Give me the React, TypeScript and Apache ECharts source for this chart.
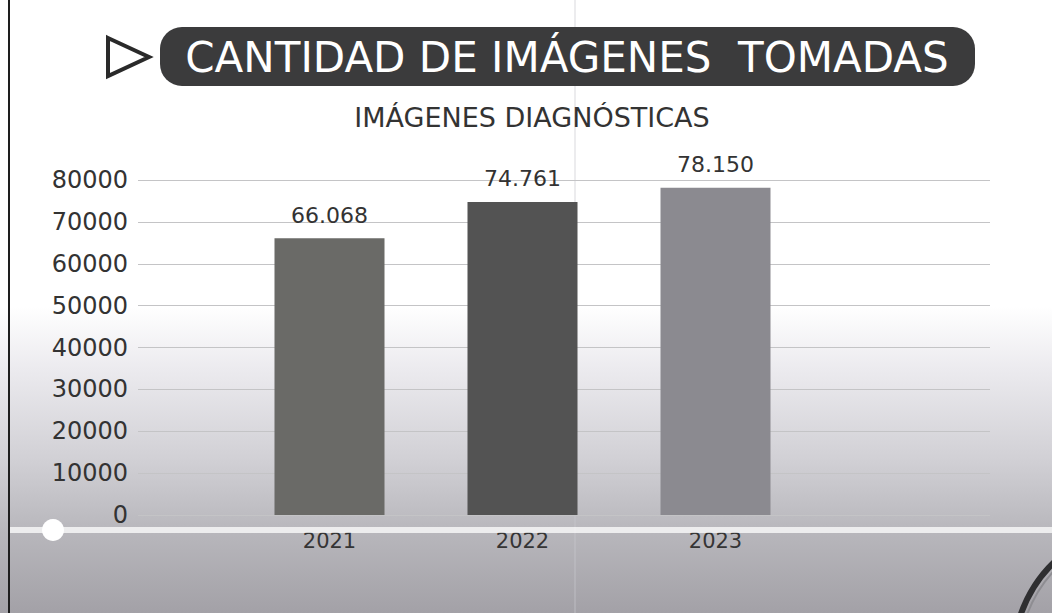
import React, { useEffect, useRef } from "react";
import * as echarts from "echarts";

const years = ["2021", "2022", "2023"];
const imagenes = [66068, 74761, 78150];
const barColors = ["#6a6a67", "#535353", "#8b8a90"];
const yTicks = [0, 10000, 20000, 30000, 40000, 50000, 60000, 70000, 80000];

const titleText = "CANTIDAD DE IMÁGENES  TOMADAS";
const subtitleText = "IMÁGENES DIAGNÓSTICAS";

const fmt = (v: number) => String(v).replace(/\B(?=(\d{3})+(?!\d))/g, ".");

export default function App() {
  const ref = useRef<HTMLDivElement>(null);
  useEffect(() => {
    if (!ref.current) return;
    const chart = echarts.init(ref.current, null, { renderer: "svg" });
    const yMax = yTicks[yTicks.length - 1];
    const option: any = {
      animation: false,
      backgroundColor: new echarts.graphic.LinearGradient(0, 0, 0, 1, [
        { offset: 0, color: "#ffffff" },
        { offset: 0.5, color: "#ffffff" },
        { offset: 0.6, color: "#ecebef" },
        { offset: 0.75, color: "#d1d0d5" },
        { offset: 0.86, color: "#b9b8bd" },
        { offset: 1, color: "#a3a1a7" },
      ]),
      textStyle: { fontFamily: "DejaVu Sans" },
      grid: [
        { left: 138, right: 62, top: 180, bottom: 98 },
        { left: 233, right: 240, top: 180, bottom: 98 },
      ],
      xAxis: [
        {
          type: "category",
          gridIndex: 0,
          data: years,
          show: false,
        },
        {
          type: "category",
          gridIndex: 1,
          data: years,
          axisLine: { show: false },
          axisTick: { show: false },
          axisLabel: { color: "#353535", fontSize: 21, margin: 15, fontFamily: "DejaVu Sans" },
        },
      ],
      yAxis: [
        {
          type: "value",
          gridIndex: 0,
          min: 0,
          max: yMax,
          interval: 10000,
          axisLine: { show: false },
          axisTick: { show: false },
          axisLabel: {
            color: "#333333",
            fontSize: 24,
            margin: 10,
            fontFamily: "DejaVu Sans",
            formatter: (v: number) => String(v),
          },
          splitLine: { lineStyle: { color: "#c4c4c6", width: 1.2 } },
        },
        {
          type: "value",
          gridIndex: 1,
          min: 0,
          max: yMax,
          interval: 10000,
          show: false,
          splitLine: { show: false },
        },
      ],
      series: [
        {
          type: "bar",
          xAxisIndex: 1,
          yAxisIndex: 1,
          barWidth: "57%",
          data: imagenes.map((v, i) => ({ value: v, itemStyle: { color: barColors[i] } })),
          label: {
            show: true,
            position: "top",
            distance: 12,
            color: "#333333",
            fontSize: 22,
            fontFamily: "DejaVu Sans",
            formatter: (p: any) => fmt(p.value),
          },
        },
      ],
      graphic: [
        { type: "line", z: -1, shape: { x1: 9, y1: 0, x2: 9, y2: 613 }, style: { stroke: "#1e1e1e", lineWidth: 2 } },
        { type: "line", z: -1, shape: { x1: 575, y1: 0, x2: 575, y2: 613 }, style: { stroke: "rgba(200,200,205,0.35)", lineWidth: 2 } },
        { type: "line", z: 10, shape: { x1: 10, y1: 530, x2: 1052, y2: 530 }, style: { stroke: "rgba(255,255,255,0.75)", lineWidth: 6 } },
        { type: "circle", z: 11, shape: { cx: 53, cy: 530, r: 11 }, style: { fill: "#ffffff" } },
        {
          type: "arc",
          z: 10,
          shape: { cx: 1150, cy: 660, r: 137, startAngle: 3.4, endAngle: 4.05, clockwise: true },
          style: { stroke: "#2f2f31", lineWidth: 6, fill: null },
        },
        {
          type: "arc",
          z: 11,
          shape: { cx: 1150, cy: 660, r: 131, startAngle: 3.4, endAngle: 4.05, clockwise: true },
          style: { stroke: "#8e8d92", lineWidth: 2, fill: null },
        },
        { type: "rect", z: 10, shape: { x: 160, y: 27, width: 815, height: 59, r: 22 }, style: { fill: "#3b3b3c" } },
        {
          type: "text",
          z: 11,
          x: 567,
          y: 57,
          style: {
            text: titleText,
            fill: "#ffffff",
            fontSize: 42,
            fontFamily: "DejaVu Sans",
            align: "center",
            verticalAlign: "middle",
          },
        },
        {
          type: "polygon",
          z: 11,
          shape: { points: [[108, 38], [149, 57], [108, 76]] },
          style: { fill: "none", stroke: "#2a2a2a", lineWidth: 4, lineJoin: "miter" },
        },
        {
          type: "text",
          z: 11,
          x: 532,
          y: 117,
          style: {
            text: subtitleText,
            fill: "#333333",
            fontSize: 27,
            fontFamily: "DejaVu Sans",
            align: "center",
            verticalAlign: "middle",
          },
        },
      ],
    };
    chart.setOption(option);
    return () => chart.dispose();
  }, []);
  return (
    <div
      ref={ref}
      style={{ position: "fixed", left: 0, top: 0, width: 1052, height: 613 }}
    />
  );
}
